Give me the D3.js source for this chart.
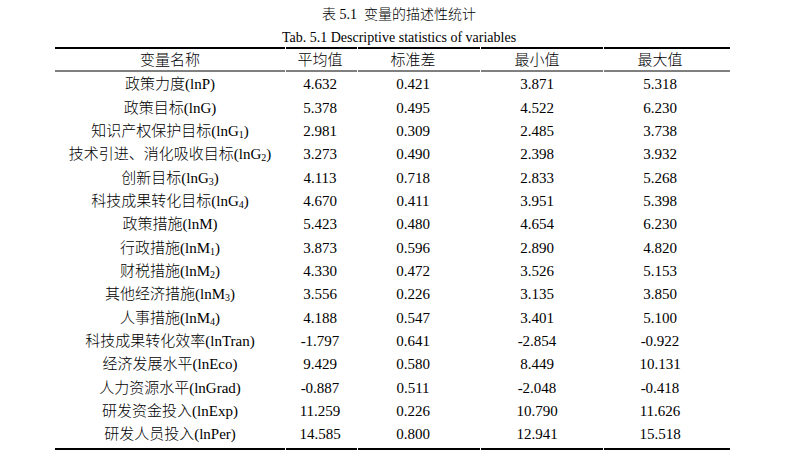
<!DOCTYPE html>
<html>
<head>
<meta charset="utf-8">
<script src="https://cdn.jsdelivr.net/npm/d3@7"></script>
<style>
  body { margin: 0; background: #fff; }
  text { font-family: "Liberation Serif", "Noto Sans CJK SC", serif; fill: #000; font-weight: 300; }
</style>
</head>
<body>
<div id="chart"></div>
<script>
var title = '表 5.1\u00a0\u00a0变量的描述性统计'
var subtitle = 'Tab. 5.1 Descriptive statistics of variables'
var headers = ['变量名称', '平均值', '标准差', '最小值', '最大值']

// "_" marks a subscript
var names = [
  '政策力度(lnP)', '政策目标(lnG)', '知识产权保护目标(lnG_1)', '技术引进、消化吸收目标(lnG_2)',
  '创新目标(lnG_3)', '科技成果转化目标(lnG_4)', '政策措施(lnM)', '行政措施(lnM_1)',
  '财税措施(lnM_2)', '其他经济措施(lnM_3)', '人事措施(lnM_4)', '科技成果转化效率(lnTran)',
  '经济发展水平(lnEco)', '人力资源水平(lnGrad)', '研发资金投入(lnExp)', '研发人员投入(lnPer)'
]
var means = [4.632, 5.378, 2.981, 3.273, 4.113, 4.670, 5.423, 3.873, 4.330, 3.556, 4.188, -1.797, 9.429, -0.887, 11.259, 14.585]
var sds   = [0.421, 0.495, 0.309, 0.490, 0.718, 0.411, 0.480, 0.596, 0.472, 0.226, 0.547, 0.641, 0.580, 0.511, 0.226, 0.800]
var mins  = [3.871, 4.522, 2.485, 2.398, 2.833, 3.951, 4.654, 2.890, 3.526, 3.135, 3.401, -2.854, 8.449, -2.048, 10.790, 12.941]
var maxs  = [5.318, 6.230, 3.738, 3.932, 5.268, 5.398, 6.230, 4.820, 5.153, 3.850, 5.100, -0.922, 10.131, -0.418, 11.626, 15.518]

var width = 799, height = 457
var svg = d3.select('#chart').append('svg').attr('width', width).attr('height', height)

// column edges of the table
var edges = [55, 285, 357, 480, 603, 730]
var colX = d3.scaleOrdinal().domain(d3.range(5)).range([170, 320, 413, 537, 660])

var y = d3.scalePoint().domain(names).range([84, 434])
// plain hyphen for negatives, as in the source
var fmt = function(v){ return d3.format('.3f')(v).replace('\u2212', '-') }

svg.append('text').attr('x', 399).attr('y', 14).attr('dy', '0.35em')
  .attr('text-anchor', 'middle').style('font-size', '14px').text(title)
svg.append('text').attr('x', 399).attr('y', 37).attr('dy', '0.35em')
  .attr('text-anchor', 'middle').style('font-size', '14px').text(subtitle)

// rules, broken by a tiny gap at each column edge
function rule(yy, w){
  d3.range(5).forEach(function(i){
    svg.append('line')
      .attr('x1', edges[i] + (i ? 1 : 0)).attr('x2', edges[i+1])
      .attr('y1', yy).attr('y2', yy)
      .attr('stroke', '#000').attr('stroke-width', w)
  })
}
rule(48, 2)
rule(71, 1)
rule(449, 2)

svg.selectAll('text.head').data(headers).enter().append('text')
  .attr('class', 'head')
  .attr('x', function(d, i){ return colX(i) }).attr('y', 60).attr('dy', '0.35em')
  .attr('text-anchor', 'middle').style('font-size', '15px')
  .text(function(d){ return d })

var rows = names.map(function(n, i){ return [n, means[i], sds[i], mins[i], maxs[i]] })

var rowSel = svg.selectAll('g.row').data(rows).enter().append('g')
  .attr('class', 'row')
  .attr('transform', function(d){ return 'translate(0,' + y(d[0]) + ')' })

rowSel.each(function(d){
  var g = d3.select(this)
  var parts = d[0].split('_')
  var t = g.append('text').attr('x', colX(0)).attr('dy', '0.35em')
    .attr('text-anchor', 'middle').style('font-size', '15px')
  if (parts.length == 1){
    t.append('tspan').text(parts[0])
  } else {
    t.append('tspan').text(parts[0])
    t.append('tspan').attr('dy', 2).style('font-size', '10px').text(parts[1].slice(0, 1))
    t.append('tspan').attr('dy', -2).text(parts[1].slice(1))
  }
  d.slice(1).forEach(function(v, j){
    g.append('text').attr('x', colX(j + 1)).attr('dy', '0.35em')
      .attr('text-anchor', 'middle').style('font-size', '15px')
      .text(fmt(v))
  })
})
</script>
</body>
</html>
